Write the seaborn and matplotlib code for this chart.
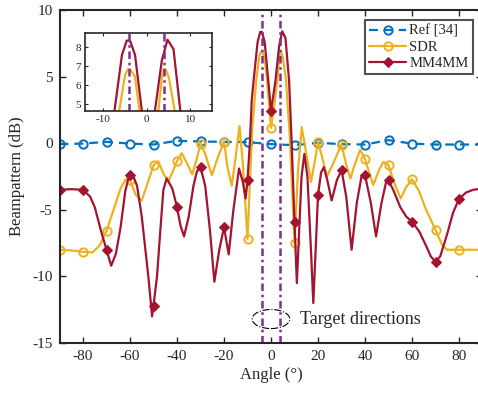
import numpy as np
import pandas as pd
import matplotlib
matplotlib.use("Agg")
import matplotlib.pyplot as plt
from matplotlib.patches import Ellipse
import seaborn as sns

# data
ref_ang = [-90, -80, -70, -60, -50, -40, -30, -20, -10, 0, 10, 20, 30, 40, 50, 60, 70, 80, 90]
ref_db = [-0.07, -0.03, 0.1, -0.03, -0.1, 0.18, 0.13, 0.1, 0.08, -0.07, -0.15, 0.03, -0.07, -0.1, 0.23, -0.03, -0.1, -0.1, -0.1]

sdr_ang = [-90, -85, -80, -76, -73, -70, -67, -64, -62, -60, -57.5, -55, -52.5, -50, -48, -45.5, -43.5,
           -42, -40, -38, -35.5, -33.5, -31.5, -30, -28, -25.2, -22.5, -20, -18.5, -16.7, -15, -13.4,
           -12, -10, -8, -6.3, -5, -4.3, -3.85, -2.7, -1.7, 0, 1.2, 2.7, 3.5, 3.9, 4.3, 5.1, 6.4, 8,
           10, 11.5, 13.1, 15, 17, 18.5, 20, 22, 23.8, 26.5, 30, 32, 33.8, 36, 38, 40, 43.5, 46, 47.8,
           50, 52.5, 55.2, 57.5, 60, 63, 66, 70, 73, 75, 80, 85, 90]
sdr_db = [-8.0, -8.05, -8.15, -8.2, -7.7, -6.6, -5.0, -3.4, -2.75, -2.8, -3.9, -4.3, -3.0, -1.65, -1.35,
          -2.4, -2.8, -2.2, -1.35, -0.75, -1.6, -2.35, -1.1, -0.05, -0.8, -2.4, -1.0, 0.1, -1.8, -3.2,
          -1.0, 1.3, -1.5, -7.2, 1.0, 4.7, 6.55, 6.85, 6.85, 6.45, 4.7, 1.15, 2.6, 4.7, 6.5, 6.85, 6.85,
          6.4, 4.7, 0.5, -7.5, -2.0, 1.2, -0.8, -2.9, -1.5, 0.1, -1.2, -2.5, -1.5, -0.1, -1.6, -2.65,
          -1.4, -0.5, -1.2, -3.15, -2.0, -1.4, -1.65, -3.0, -4.15, -3.3, -2.7, -3.6, -5.0, -6.5, -7.7,
          -8.0, -8.0, -8.0, -8.0]

mm_ang = [-90, -85, -80, -77, -75, -72, -70, -68, -66, -64, -62, -60.5, -60, -59, -57, -55, -52.2,
          -50.6, -50, -48.5, -47.2, -45.8, -44.4, -42, -40, -38.5, -37, -35, -33, -31.5, -30, -28, -26,
          -24.1, -22, -20, -18, -16, -13.6, -12, -10.8, -10, -9, -8.2, -7.4, -5.7, -4.6, -3.85, -2.7,
          -1.15, 0, 1.9, 3.46, 4.77, 6.15, 7.7, 8.8, 10, 11, 12, 13, 14.2, 15.5, 17, 18, 19, 20, 21.3,
          22.5, 24, 25.8, 28, 30, 32, 34.3, 36.5, 38.5, 39.6, 40, 42.5, 44.7, 47, 49, 50, 52, 55, 57.5,
          60, 63, 66, 68, 70, 72, 75, 77.5, 80, 83, 86, 90]
mm_db = [-3.5, -3.45, -3.5, -4.0, -4.8, -6.8, -8.0, -9.2, -8.3, -6.3, -3.6, -2.5, -2.4, -2.3, -3.2, -5.5,
         -10.0, -13.0, -12.2, -10.0, -6.8, -3.5, -2.65, -3.4, -4.8, -6.2, -7.0, -5.5, -3.2, -2.1, -1.8,
         -3.2, -6.5, -10.4, -8.0, -6.3, -8.35, -5.0, -1.9, -2.9, -4.15, -2.8, 0.0, 3.2, 4.7, 7.6, 8.35,
         8.35, 7.6, 4.7, 2.4, 4.7, 7.3, 8.4, 7.9, 4.7, 0.0, -5.9, -10.5, -6.5, -2.5, -0.8, -2.5, -8.0,
         -12.0, -8.0, -3.9, -2.2, -1.8, -2.8, -4.3, -2.8, -2.0, -4.0, -8.0, -4.5, -2.5, -2.3, -2.4, -4.5,
         -7.0, -4.5, -2.9, -2.8, -3.5, -4.8, -5.5, -5.9, -6.6, -7.7, -8.5, -8.9, -8.5, -6.8, -5.2, -4.2,
         -3.7, -3.5, -3.4]

targets = [-4, 4]

BLUE = "#0072BD"
YELLOW = "#EDB120"
RED = "#A2142F"
PURPLE = "#7E2F8E"

sns.set_theme(style="white")
plt.rcParams["font.family"] = ["Liberation Serif", "DejaVu Serif"]
plt.rcParams["axes.unicode_minus"] = False


def every10(ang):
    return [i for i, a in enumerate(ang) if a % 10 == 0]


fig = plt.figure(figsize=(4.78, 3.97), dpi=100)
ax = fig.add_axes([59.5 / 478, 1 - 343 / 397, 423 / 478, 333 / 397])

sns.lineplot(x=ref_ang, y=ref_db, ax=ax, color=BLUE, lw=1.6, dashes=False, linestyle=(0, (4, 2.7)),
             marker="o", markersize=6, markerfacecolor="none", markeredgewidth=1.4,
             markeredgecolor=BLUE, label="Ref [34]")
sns.lineplot(x=sdr_ang, y=sdr_db, ax=ax, color=YELLOW, lw=1.6, marker="o", markevery=every10(sdr_ang),
             markersize=6, markerfacecolor="none", markeredgewidth=1.4, markeredgecolor=YELLOW,
             label="SDR")
sns.lineplot(x=mm_ang, y=mm_db, ax=ax, color=RED, lw=1.6, marker="D", markevery=every10(mm_ang),
             markersize=5, markerfacecolor=RED, markeredgecolor=RED, label="MM4MM")
for t in targets:
    ax.axvline(t, color=PURPLE, lw=1.8, linestyle=(0, (3, 1.5, 1, 1.5)))

ax.add_patch(Ellipse((0, -13.2), 16, 1.43, fill=False, ec="black", lw=0.8, linestyle="-."))
ax.text(12.4, -13.2, "Target directions", fontsize=13, va="center", ha="left")

ax.set_xlim(-90, 90)
ax.set_ylim(-15, 10)
ax.set_xticks(range(-80, 81, 20))
ax.set_yticks(range(-15, 11, 5))
ax.tick_params(direction="in", top=True, right=True, length=4, width=1, labelsize=11,
               bottom=True, left=True, pad=5, colors="#262626")
for s in ax.spines.values():
    s.set_color("#262626")
    s.set_linewidth(1.5)
ax.set_xlabel("Angle (°)", fontsize=12, labelpad=3)
ax.set_ylabel("Beampattern (dB)", fontsize=12, labelpad=5)

leg = ax.legend(loc="upper right", bbox_to_anchor=(473 / 478, 1 - 20 / 397),
                bbox_transform=fig.transFigure, borderaxespad=0, fontsize=10.5, frameon=True,
                fancybox=False, edgecolor="#262626", handlelength=2.5, labelspacing=0.2,
                borderpad=0.3, handletextpad=0.25)
leg.get_frame().set_linewidth(1.5)

# inset zoom on the main lobes
ins = fig.add_axes([85 / 478, 1 - 111 / 397, 127 / 478, 78 / 397])
sns.lineplot(x=sdr_ang, y=sdr_db, ax=ins, color=YELLOW, lw=1.6)
sns.lineplot(x=mm_ang, y=mm_db, ax=ins, color=RED, lw=1.6)
for t in targets:
    ins.axvline(t, color=PURPLE, lw=1.8, linestyle=(0, (3, 1.5, 1, 1.5)))
ins.set_xlim(-14.2, 15)
ins.set_ylim(4.65, 8.75)
ins.set_xticks([-10, 0, 10])
ins.set_yticks([5, 6, 7, 8])
ins.tick_params(direction="in", top=True, right=True, length=2.5, width=0.8, labelsize=8,
                bottom=True, left=True, pad=3, colors="#262626")
for s in ins.spines.values():
    s.set_color("#262626")
    s.set_linewidth(1.2)
ins.set_xlabel("")
ins.set_ylabel("")

fig.savefig("out.png", dpi=100)
